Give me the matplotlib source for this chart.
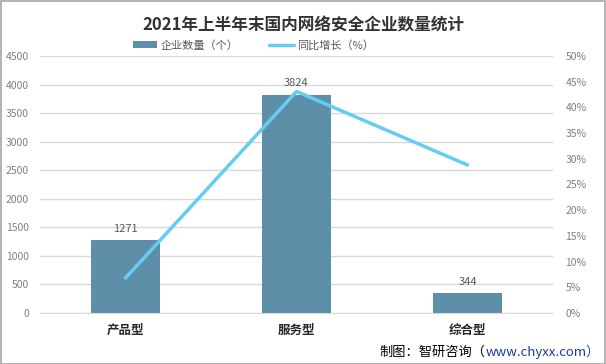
import matplotlib.pyplot as plt
import numpy as np
from matplotlib.ticker import MultipleLocator, FuncFormatter

plt.rcParams['font.family'] = ['Noto Sans CJK SC', 'DejaVu Sans']

categories = ["产品型", "服务型", "综合型"]
counts = [1271, 3824, 344]
growth = [6.8, 43.1, 28.8]

bar_color = "#5d90a8"
line_color = "#66ccf2"
grid_color = "#d9d9d9"
tick_color = "#7f7f7f"

fig = plt.figure(figsize=(6.06, 3.64), dpi=100)
ax = fig.add_axes([40/606, 51/364, 513/606, 257/364])
ax2 = ax.twinx()

x = np.arange(len(categories))
bars = ax.bar(x, counts, width=0.4, color=bar_color, label="企业数量（个）", zorder=2)
ax.set_xlim(-0.5, 2.5)
ax.set_ylim(0, 4500)
ax.yaxis.set_major_locator(MultipleLocator(500))
ax.grid(axis="y", color=grid_color, linewidth=1, zorder=0)
ax.set_axisbelow(True)
for s in ax.spines.values():
    s.set_visible(False)
ax.spines["bottom"].set_visible(True)
ax.spines["bottom"].set_color(grid_color)
ax.tick_params(axis="y", length=0, labelsize=7.5, labelcolor=tick_color, pad=8)
ax.tick_params(axis="x", length=0, labelsize=9, pad=8)
ax.set_xticks(x)
ax.set_xticklabels(categories, fontweight="bold", color="#262626")

for xi, v in zip(x, counts):
    ax.text(xi, v + 110, str(v), ha="center", va="bottom", fontsize=8, color="#595959")

ax2.plot(x, growth, color=line_color, linewidth=2.5, label="同比增长（%）", solid_capstyle="round")
ax2.set_ylim(0, 50)
ax2.yaxis.set_major_locator(MultipleLocator(5))
ax2.yaxis.set_major_formatter(FuncFormatter(lambda v, p: f"{v:.0f}%"))
ax2.tick_params(axis="y", length=0, labelsize=7.5, labelcolor=tick_color, pad=9)
for s in ax2.spines.values():
    s.set_visible(False)

fig.text(0.5, 0.93, "2021年上半年末国内网络安全企业数量统计", ha="center", va="center",
         fontsize=12, fontweight="bold", color="#333333")

h1, l1 = ax.get_legend_handles_labels()
h2, l2 = ax2.get_legend_handles_labels()
fig.legend(h1 + h2, l1 + l2, loc="center", bbox_to_anchor=(0.418, 0.876), ncol=2, frameon=False,
           fontsize=8, labelcolor="#595959", handlelength=2.2, handletextpad=0.3, columnspacing=2.8)

fig.text(0.99, 0.033, "制图：智研咨询（", ha="right", va="center", fontsize=9.5, color="#000000")
t = fig.text(0.99, 0.033, "www.chyxx.com）", ha="right", va="center", fontsize=9.5, color="#1f3a93")

# place the two source parts side by side
fig.canvas.draw()
r = fig.canvas.get_renderer()
w_bb = t.get_window_extent(r)
fig.texts[-2].set_position((w_bb.x0 / fig.bbox.width, 0.033))

border = plt.Rectangle((0.001, 0.001), 0.997, 0.996, transform=fig.transFigure, fill=False,
                       edgecolor="#a6a6a6", linewidth=1.2)
fig.add_artist(border)

fig.savefig("out.png", dpi=100)
